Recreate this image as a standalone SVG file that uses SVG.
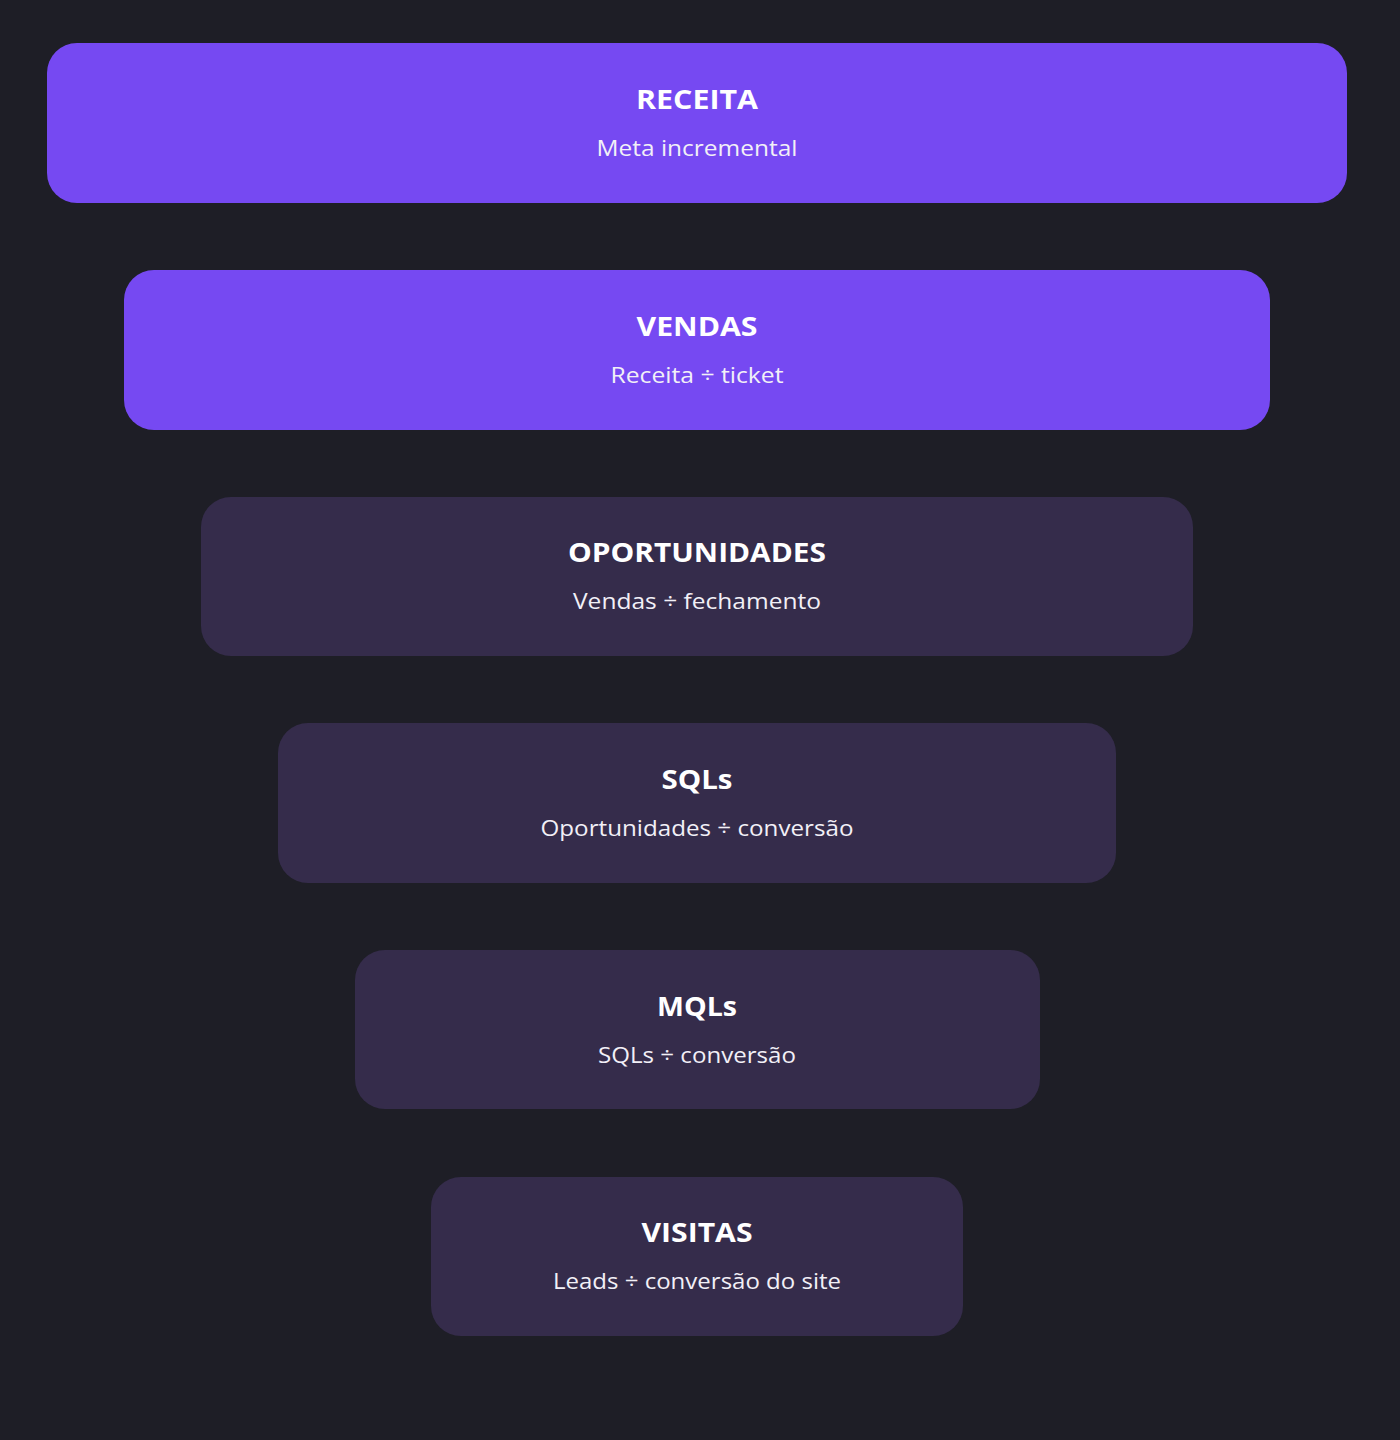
<svg xmlns="http://www.w3.org/2000/svg" width="1400" height="1440" viewBox="0 0 1400 1440">
<style>
.bg{fill:#1e1e26}
.hi{fill:#7649f2}
.lo{fill:#352c4b}
.t{font-family:"Open Sans","DejaVu Sans",sans-serif;font-weight:700;font-size:26px;fill:#ffffff;text-anchor:middle}
.s{font-family:"Open Sans","DejaVu Sans",sans-serif;font-weight:400;font-size:21px;fill:#f2f0f7;text-anchor:middle}
</style>
<rect class="bg" x="0" y="0" width="1400" height="1440"/>
<g id="receita">
<rect class="hi" x="47" y="43" width="1300" height="160" rx="30"/>
<text class="t" x="697" y="109" textLength="122" lengthAdjust="spacingAndGlyphs">RECEITA</text>
<text class="s" x="697" y="156" textLength="201" lengthAdjust="spacingAndGlyphs">Meta incremental</text>
</g>
<g id="vendas">
<rect class="hi" x="124" y="270" width="1146" height="160" rx="30"/>
<text class="t" x="697" y="336" textLength="121" lengthAdjust="spacingAndGlyphs">VENDAS</text>
<text class="s" x="697" y="383" textLength="173" lengthAdjust="spacingAndGlyphs">Receita ÷ ticket</text>
</g>
<g id="oportunidades">
<rect class="lo" x="201" y="497" width="992" height="159" rx="30"/>
<text class="t" x="697" y="562" textLength="258" lengthAdjust="spacingAndGlyphs">OPORTUNIDADES</text>
<text class="s" x="697" y="609" textLength="248" lengthAdjust="spacingAndGlyphs">Vendas ÷ fechamento</text>
</g>
<g id="sqls">
<rect class="lo" x="278" y="723" width="838" height="160" rx="30"/>
<text class="t" x="697" y="789" textLength="71" lengthAdjust="spacingAndGlyphs">SQLs</text>
<text class="s" x="697" y="836" textLength="313" lengthAdjust="spacingAndGlyphs">Oportunidades ÷ conversão</text>
</g>
<g id="mqls">
<rect class="lo" x="355" y="950" width="685" height="159" rx="30"/>
<text class="t" x="697" y="1016" textLength="80" lengthAdjust="spacingAndGlyphs">MQLs</text>
<text class="s" x="697" y="1063" textLength="198" lengthAdjust="spacingAndGlyphs">SQLs ÷ conversão</text>
</g>
<g id="visitas">
<rect class="lo" x="431" y="1177" width="532" height="159" rx="30"/>
<text class="t" x="697" y="1242" textLength="111" lengthAdjust="spacingAndGlyphs">VISITAS</text>
<text class="s" x="697" y="1289" textLength="288" lengthAdjust="spacingAndGlyphs">Leads ÷ conversão do site</text>
</g>
<g id="connectors"/>
</svg>
